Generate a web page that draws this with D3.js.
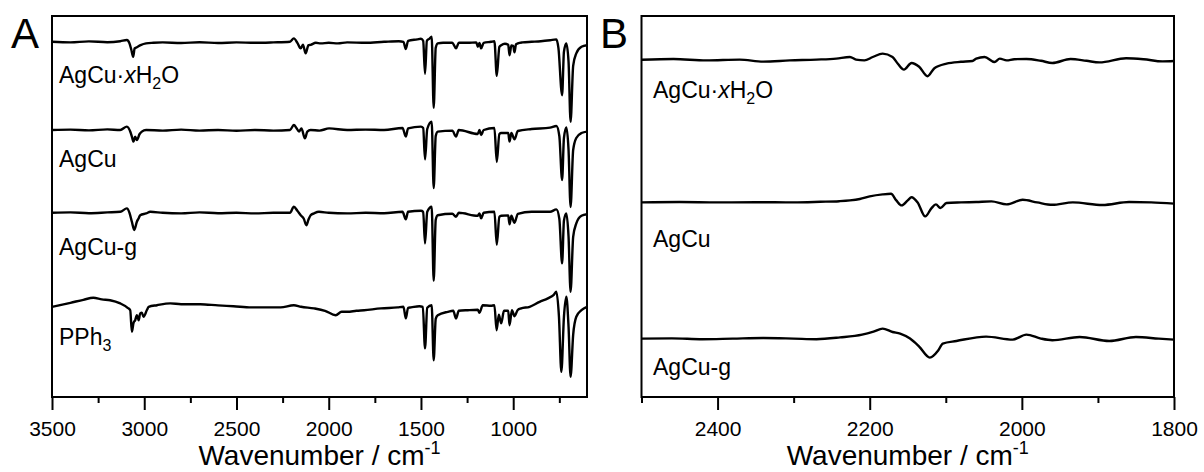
<!DOCTYPE html>
<html>
<head>
<meta charset="utf-8">
<script src="https://cdn.jsdelivr.net/npm/d3@7"></script>
<style>
body { margin: 0; background: #fff; }
svg { font-family: Arial, "Liberation Sans", sans-serif; }
</style>
</head>
<body>
<svg id="chart" width="1204" height="472"></svg>
<script>
// spectra as [wavenumber (cm-1), transmittance change (a.u.)]
var agcuHydrateA = [
  [3500,0],[3400,-0.3],[3300,0.2],[3200,-0.2],[3130,0.3],[3094,0.9],[3080,-0.8],[3070,-4],[3060,-7.5],[3052,-3.3],
  [3040,-2.7],[3020,-1.7],[2990,-0.8],[2950,-0.5],[2900,-0.3],[2800,-0.6],[2700,-0.2],[2600,-0.6],[2500,-0.3],
  [2400,-0.5],[2300,-0.3],[2210,0],[2189,1.7],[2170,-0.5],[2152,-3.3],[2140,-1.5],[2125,-5.8],[2110,-1.7],[2098,-1.5],
  [2070,-0.5],[2043,-0.8],[2000,-0.5],[1950,-0.8],[1900,-0.3],[1800,-0.5],[1700,0],[1620,0.3],[1595,0],[1582,-3.6],
  [1570,0.5],[1520,1.2],[1500,1.5],[1488,0.5],[1478,-16],[1468,0.5],[1455,1.5],[1442,2.5],[1431,-33],[1420,-3],
  [1409,-0.8],[1380,-0.5],[1330,-0.5],[1310,-3.3],[1295,-0.5],[1246,-0.5],[1200,-0.3],[1192,-2.5],[1183,-0.6],
  [1174,-3.3],[1160,-0.5],[1120,0],[1102,0.3],[1089,-17],[1075,-2.5],[1065,-1.7],[1045,-1],[1027,-1.5],[1020,-6.7],
  [1010,-1.8],[1000,-2],[993,-5.3],[985,-1.3],[975,-0.8],[950,-0.3],[900,0],[850,0.3],[800,0.8],[766,1.2],[755,-3],
  [735,-26.7],[725,-5],[712,-0.8],[700,-10],[689,-40],[675,-12],[658,-5.8],[630,-2.5],[600,-1.7]
];
var agcuA = [
  [3500,0],[3400,0.2],[3300,-0.2],[3200,0.3],[3130,0],[3094,1.7],[3075,-1],[3067,-3.3],[3058,-5.8],[3049,-3.3],
  [3040,-5],[3025,-2],[3013,-0.8],[2990,0],[2900,-0.3],[2800,0.2],[2700,-0.3],[2600,0],[2500,-0.4],[2400,0],
  [2300,-0.3],[2210,0],[2189,2.5],[2175,1],[2161,-0.8],[2148,0.8],[2129,-4.2],[2116,-0.8],[2098,0],[2050,-0.3],
  [1998,0.8],[1900,0],[1800,0.2],[1700,0],[1600,1],[1582,-3.3],[1570,0.8],[1500,1.7],[1488,1],[1478,-14.7],
  [1466,0.5],[1442,4.2],[1431,-29],[1420,-3],[1409,-0.8],[1330,-0.3],[1310,-3.3],[1295,0],[1192,-2],[1183,0],
  [1174,-2.5],[1160,0],[1102,1],[1089,-16],[1075,-2],[1065,-1.5],[1027,-1.5],[1020,-5.8],[1010,-1.5],[993,-4.7],
  [975,-0.5],[900,0.5],[800,1.2],[766,2],[750,-3],[735,-25],[725,-4],[712,1.3],[700,-10],[689,-38.5],[675,-10],
  [658,-4],[630,-1.5],[600,-0.8]
];
var agcuGA = [
  [3500,0],[3400,0.2],[3300,-0.2],[3200,0.2],[3130,0.5],[3094,2.2],[3080,0],[3067,-4.5],[3054,-8.6],[3040,-4.5],
  [3030,-2.7],[3022,-1.2],[2990,-0.3],[2967,0.5],[2900,0],[2800,-0.3],[2700,0.2],[2600,-0.2],[2500,0],[2400,-0.3],
  [2300,0],[2210,0],[2189,3],[2170,1],[2152,-1.2],[2135,-3],[2121,-6.2],[2110,-3.5],[2098,-1.2],[2080,-0.3],
  [2053,0.5],[2000,0],[1900,-0.3],[1800,0],[1700,-0.2],[1600,0.5],[1582,-3.3],[1570,0.5],[1500,1],[1488,0.5],
  [1478,-15.3],[1466,0.5],[1442,3],[1431,-34],[1420,-3.5],[1409,-1.2],[1330,-0.5],[1310,-2],[1295,0],[1192,-1.5],
  [1183,-0.3],[1174,-2.8],[1160,0],[1102,0.5],[1089,-16],[1075,-2],[1065,-1.5],[1027,-1.3],[1020,-5.7],[1010,-1.5],
  [993,-5],[975,-0.5],[900,0.5],[800,0.5],[766,1.7],[750,-3],[735,-25.3],[725,-4],[712,-0.3],[700,-12],[689,-39.5],
  [675,-12],[658,-5.3],[630,-1.5],[600,-0.7]
];
var pph3A = [
  [3500,0],[3400,2],[3330,3.5],[3276,4.5],[3230,3.7],[3185,3.3],[3130,1.7],[3090,-0.5],[3076,-1.7],[3067,-12.5],
  [3058,-8],[3049,-6.7],[3040,-4.2],[3030,-6.7],[3022,-3.3],[3013,-3],[3004,-5],[2985,-1.5],[2976,0],[2931,0.8],
  [2859,1.7],[2800,1.3],[2696,1.3],[2600,0.7],[2516,0.3],[2420,-0.3],[2333,-0.3],[2261,-0.3],[2189,0.8],[2150,0],
  [2080,-0.8],[2020,-2],[1962,-4.2],[1930,-2.5],[1899,-2.5],[1850,-2],[1808,-1.7],[1717,-0.8],[1627,-0.3],[1595,0],
  [1582,-5.8],[1570,-0.5],[1554,-0.3],[1509,0.3],[1490,0],[1478,-20.8],[1466,-0.5],[1442,0.8],[1431,-26.7],
  [1420,-6],[1409,-4.2],[1355,-2.5],[1325,-2],[1310,-5.8],[1295,-2],[1246,-1.7],[1192,-1.5],[1183,-3],[1165,0.8],
  [1120,0.5],[1102,0.8],[1090,-11.7],[1078,-4],[1065,-8.3],[1050,-2],[1027,-2],[1020,-9.2],[1007,-1.7],[993,-4.7],
  [975,-1.5],[957,-0.8],[911,0],[857,2.5],[812,4.2],[780,6],[766,7.5],[752,-5],[739,-32.5],[725,-5],[712,5],
  [700,-10],[689,-35],[675,-14],[658,-5],[630,-1.7],[600,0]
];

var agcuHydrateB = [
  [2500,0],[2458,0.4],[2415,-0.3],[2371,0.1],[2340,-0.9],[2305,-0.3],[2270,0.1],[2244,0.6],[2226,1.4],[2218,0.1],
  [2207,-0.3],[2196,1.4],[2183,3.1],[2170,1.4],[2163,-2],[2155,-4.9],[2145,-1.6],[2135,-3.5],[2124,-8.2],[2115,-4.2],
  [2099,-1.9],[2080,-1],[2065,-0.6],[2060,0.6],[2049,1.4],[2036,-1.1],[2029,0.6],[2020,-0.3],[2010,0.3],[1994,0.4],
  [1975,-0.5],[1960,-1.6],[1936,0.4],[1915,-0.5],[1898,-1.3],[1863,0.8],[1840,0.3],[1815,-0.8],[1800,-0.6]
];
var agcuB = [
  [2500,0],[2450,0.2],[2400,0],[2350,0.1],[2300,0],[2265,0.3],[2240,0.6],[2226,1],[2213,1.7],[2200,3],[2183,4],
  [2172,4.3],[2165,1],[2158,-1.5],[2150,1],[2145,2.6],[2137,0],[2127,-7],[2119,-3],[2113,-1],[2107,-2.8],[2099,-0.3],
  [2080,0],[2060,0.2],[2040,0.5],[2020,-1],[1999,1.3],[1980,0],[1960,-1.2],[1933,0],[1894,-1.3],[1859,0.2],
  [1830,0],[1800,-0.6]
];
var agcuGB = [
  [2500,0],[2460,0.1],[2420,-0.3],[2380,0],[2340,0.3],[2300,0],[2270,-0.3],[2239,0.6],[2210,2],[2195,3.5],[2183,5],
  [2170,3.3],[2160,2.5],[2147,0],[2135,-4],[2121,-9.5],[2110,-6],[2104,-2.5],[2086,-1.2],[2047,1],[2012,-0.5],
  [1994,2],[1975,0],[1960,-0.8],[1924,0.8],[1885,-1.2],[1850,0.8],[1820,0],[1800,-0.5]
];

// vertical stacking offsets (a.u.)
var offsetsA = [177.6, 133.5, 92.1, 45.1];
var offsetsB = [168.6, 97.3, 29.2];

// series labels: parts with optional italic / subscript
var labelHydrate = [{t:"AgCu\u00b7"},{t:"x",i:1},{t:"H"},{t:"2",sub:1},{t:"O"}];
var labelAgCu = [{t:"AgCu"}];
var labelAgCuG = [{t:"AgCu-g"}];
var labelPPh3 = [{t:"PPh"},{t:"3",sub:1}];

var majorTicksA = [3500, 3000, 2500, 2000, 1500, 1000];
var minorTicksA = [3250, 2750, 2250, 1750, 1250, 750];
var majorTicksB = [2400, 2200, 2000, 1800];
var minorTicksB = [2500, 2300, 2100, 1900];

var svg = d3.select("#chart");

function drawPanel(p) {
  var x = d3.scaleLinear().domain(p.xDomain).range([p.left, p.right]);
  var y = d3.scaleLinear().domain([0, 190.5]).range([p.bottom, p.top]);
  var g = svg.append("g");

  var line = d3.line()
    .x(function(d) { return x(d[0]); })
    .y(function(d) { return y(d[1]); })
    .curve(d3.curveMonotoneX);

  p.series.forEach(function(s, i) {
    var pts = s.map(function(d) { return [d[0], d[1] + p.offsets[i]]; });
    g.append("path")
      .datum(pts)
      .attr("fill", "none")
      .attr("stroke", "#000")
      .attr("stroke-width", 2.4)
      .attr("stroke-linejoin", "round")
      .attr("d", line);
  });

  g.append("rect")
    .attr("x", p.left).attr("y", p.top)
    .attr("width", p.right - p.left).attr("height", p.bottom - p.top)
    .attr("fill", "none").attr("stroke", "#000").attr("stroke-width", 2);

  var major = g.append("g")
    .attr("transform", "translate(0," + p.bottom + ")")
    .call(d3.axisBottom(x).tickValues(p.major).tickSize(13).tickPadding(11).tickFormat(d3.format("d")));
  var minor = g.append("g")
    .attr("transform", "translate(0," + p.bottom + ")")
    .call(d3.axisBottom(x).tickValues(p.minor).tickSize(6).tickFormat(""));
  [major, minor].forEach(function(a) {
    a.select(".domain").remove();
    a.selectAll("line").attr("stroke", "#000").attr("stroke-width", 2);
  });
  major.selectAll("text")
    .attr("font-size", 21)
    .attr("font-family", "Arial, 'Liberation Sans', sans-serif")
    .attr("fill", "#000");

  var title = g.append("text")
    .attr("x", (p.left + p.right) / 2)
    .attr("y", 465)
    .attr("text-anchor", "middle")
    .attr("font-size", 28);
  title.append("tspan").text("Wavenumber / cm");
  title.append("tspan").attr("font-size", 18).attr("dy", -11).text("-1");

  g.append("text")
    .attr("x", p.letterX).attr("y", 48)
    .attr("font-size", 42)
    .text(p.letter);

  p.labels.forEach(function(parts, i) {
    var t = g.append("text")
      .attr("x", p.labelX).attr("y", p.labelY[i])
      .attr("font-size", 23);
    var shifted = false;
    parts.forEach(function(pt) {
      var ts = t.append("tspan").text(pt.t);
      if (pt.i) ts.attr("font-style", "italic");
      if (pt.sub) { ts.attr("font-size", 16).attr("dy", 6); shifted = true; }
      else if (shifted) { ts.attr("dy", -6); shifted = false; }
    });
  });
}

drawPanel({
  xDomain: [3500, 600], left: 52, right: 587, top: 16, bottom: 397,
  series: [agcuHydrateA, agcuA, agcuGA, pph3A], offsets: offsetsA,
  labels: [labelHydrate, labelAgCu, labelAgCuG, labelPPh3], labelX: 59, labelY: [83, 167, 255, 345],
  major: majorTicksA, minor: minorTicksA, letter: "A", letterX: 11
});

drawPanel({
  xDomain: [2500, 1800], left: 641.5, right: 1174, top: 16, bottom: 397,
  series: [agcuHydrateB, agcuB, agcuGB], offsets: offsetsB,
  labels: [labelHydrate, labelAgCu, labelAgCuG], labelX: 653, labelY: [98, 247, 375],
  major: majorTicksB, minor: minorTicksB, letter: "B", letterX: 600
});
</script>
</body>
</html>
